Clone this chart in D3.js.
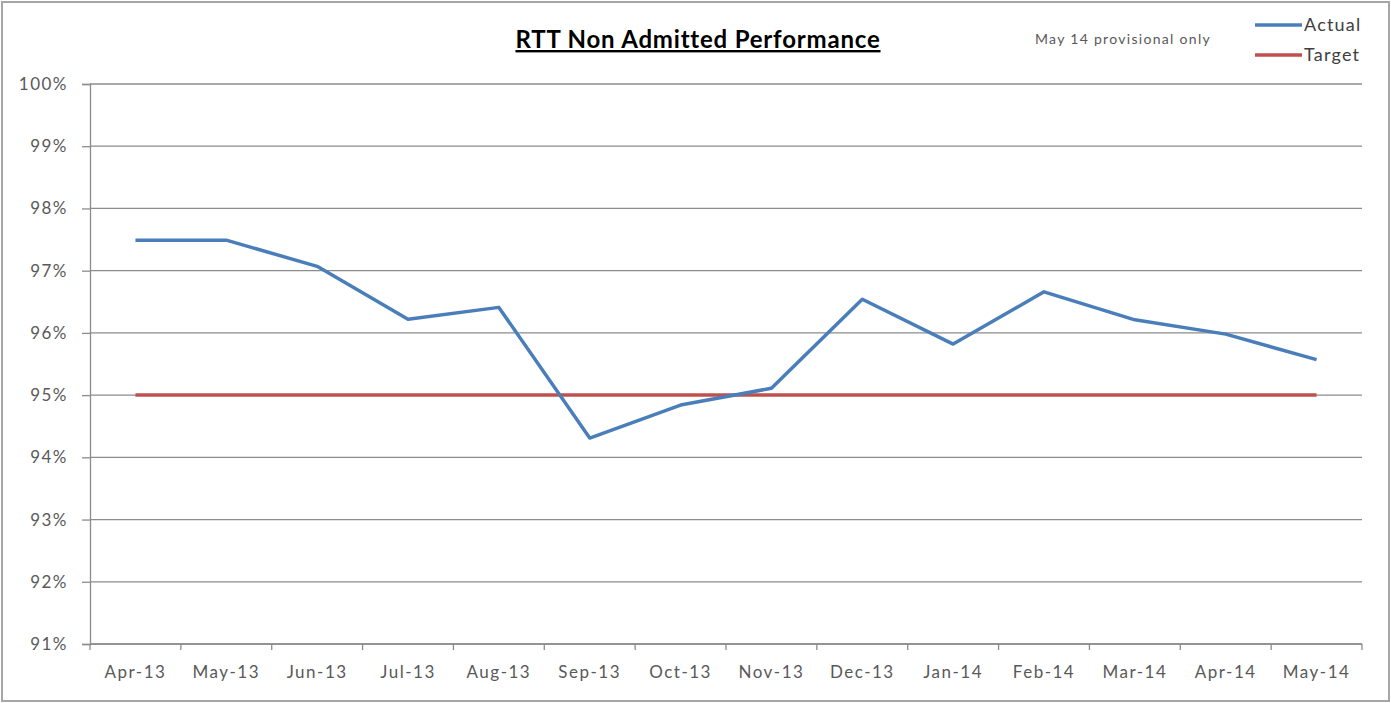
<!DOCTYPE html>
<html lang="en">
<head>
<meta charset="UTF-8">
<title>RTT Non Admitted Performance</title>
<script src="https://d3js.org/d3.v7.min.js"></script>
<style>
  body { margin: 0; background: #fff; }
  text { font-family: Lato, "Open Sans", sans-serif; }
</style>
</head>
<body>
<div id="chart"></div>
<script>
// chart data
var months = ["Apr-13", "May-13", "Jun-13", "Jul-13", "Aug-13", "Sep-13", "Oct-13",
              "Nov-13", "Dec-13", "Jan-14", "Feb-14", "Mar-14", "Apr-14", "May-14"];
var actual = [97.49, 97.49, 97.07, 96.22, 96.41, 94.31, 94.84,
              95.11, 96.54, 95.82, 96.66, 96.21, 95.98, 95.57];
var target = [95, 95, 95, 95, 95, 95, 95, 95, 95, 95, 95, 95, 95, 95];
var yTicks = [91, 92, 93, 94, 95, 96, 97, 98, 99, 100];

var W = 1391, H = 703;
var margin = {top: 84, right: 29, bottom: 59, left: 90};
var width = W - margin.left - margin.right,
    height = H - margin.top - margin.bottom;

var svg = d3.select("#chart").append("svg")
    .attr("width", W)
    .attr("height", H);

// outer frame
svg.append("rect")
    .attr("x", 2).attr("y", 2)
    .attr("width", W - 4).attr("height", H - 4)
    .attr("fill", "#fff")
    .attr("stroke", "#a6a6a6")
    .attr("stroke-width", 2);

var g = svg.append("g")
    .attr("transform", "translate(" + margin.left + "," + margin.top + ")");

var x = d3.scaleBand().domain(months).range([0, width]);
var y = d3.scaleLinear().domain([91, 100]).range([height, 0]);

// gridlines
g.selectAll(".grid")
  .data(yTicks)
  .enter().append("line")
    .attr("x1", 0).attr("x2", width)
    .attr("y1", function(d) { return y(d); })
    .attr("y2", function(d) { return y(d); })
    .attr("stroke", "#8c8c8c")
    .attr("stroke-width", 1.3);

// y axis
var yAxis = g.append("g")
    .call(d3.axisLeft(y).tickValues(yTicks).tickSize(8).tickPadding(14)
      .tickFormat(function(d) { return d + "%"; }));
yAxis.select(".domain").attr("stroke", "#8c8c8c").attr("stroke-width", 1.3);
yAxis.selectAll(".tick line").attr("stroke", "#8c8c8c").attr("stroke-width", 1.3);
yAxis.selectAll("text")
    .attr("fill", "#595959")
    .style("font-size", "17px")
    .style("letter-spacing", "1.5px");

// x axis, ticks on the band edges
var xAxis = g.append("g")
    .attr("transform", "translate(0," + height + ")")
    .call(d3.axisBottom(x).tickSize(0).tickPadding(22));
xAxis.select(".domain").remove();
xAxis.selectAll("text")
    .attr("fill", "#595959")
    .style("font-size", "17px")
    .style("letter-spacing", "1.5px");
xAxis.append("line")
    .attr("x1", 0).attr("x2", width)
    .attr("stroke", "#8c8c8c").attr("stroke-width", 1.3);
xAxis.selectAll(".edge")
  .data(months.concat(["end"]))
  .enter().append("line")
    .attr("x1", function(d, i) { return i * x.step(); })
    .attr("x2", function(d, i) { return i * x.step(); })
    .attr("y1", 0).attr("y2", 6)
    .attr("stroke", "#8c8c8c").attr("stroke-width", 1.3);

var line = d3.line()
    .x(function(d, i) { return x(months[i]) + x.bandwidth() / 2; })
    .y(function(d) { return y(d); });

g.append("path")
    .datum(target)
    .attr("d", line)
    .attr("fill", "none")
    .attr("stroke", "#c0504d")
    .attr("stroke-width", 3.5);

g.append("path")
    .datum(actual)
    .attr("d", line)
    .attr("fill", "none")
    .attr("stroke", "#4a7ebb")
    .attr("stroke-width", 3.5)
    .attr("stroke-linejoin", "round");

// title
svg.append("text")
    .attr("x", 698).attr("y", 48)
    .attr("text-anchor", "middle")
    .attr("fill", "#000")
    .style("font-size", "24px")
    .style("font-weight", "bold")
    .style("letter-spacing", "0.8px")
    .style("text-decoration", "underline")
    .text("RTT Non Admitted Performance");

// note
svg.append("text")
    .attr("x", 1123).attr("y", 44)
    .attr("text-anchor", "middle")
    .attr("fill", "#595959")
    .style("font-size", "14px")
    .style("letter-spacing", "1.3px")
    .text("May 14 provisional only");

// legend
var legend = [
  {name: "Actual", color: "#4a7ebb"},
  {name: "Target", color: "#c0504d"}
];
var lg = svg.selectAll(".legend")
  .data(legend)
  .enter().append("g")
    .attr("transform", function(d, i) { return "translate(1255," + (25 + i * 30) + ")"; });
lg.append("line")
    .attr("x1", 0).attr("x2", 47)
    .attr("stroke", function(d) { return d.color; })
    .attr("stroke-width", 3.5);
lg.append("text")
    .attr("x", 49).attr("y", 6)
    .attr("fill", "#404040")
    .style("font-size", "18px")
    .style("letter-spacing", "1.2px")
    .text(function(d) { return d.name; });
</script>
</body>
</html>
